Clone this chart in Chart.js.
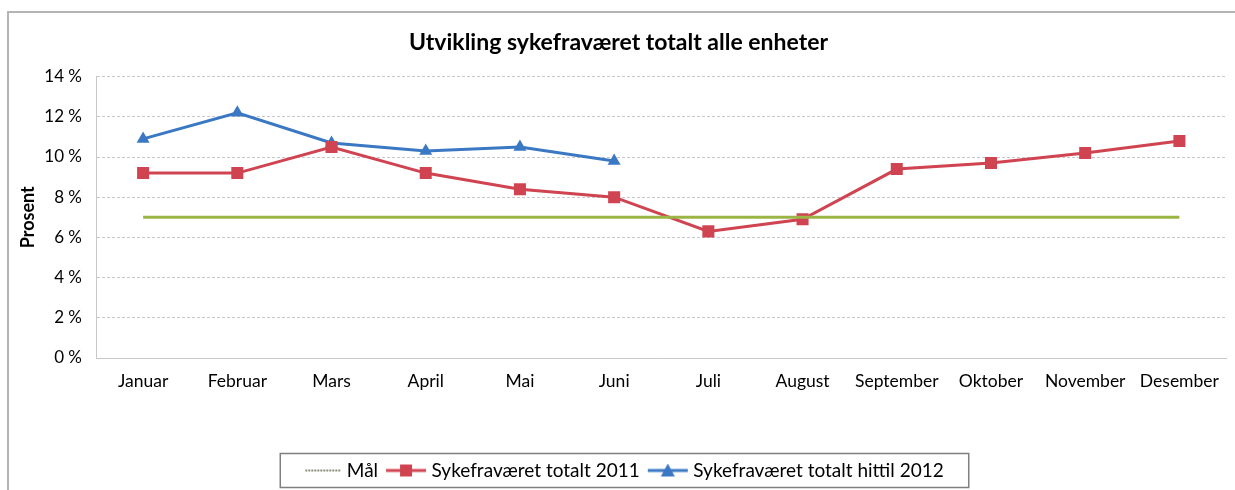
<!DOCTYPE html>
<html>
<head>
<meta charset="utf-8">
<script src="https://cdn.jsdelivr.net/npm/chart.js@4.4.1/dist/chart.umd.min.js"></script>
<style>
  html, body { margin: 0; padding: 0; background: #fff; }
  #wrap { position: relative; width: 1235px; height: 490px; }
  #frame { position: absolute; left: 7px; top: 11px; width: 1240px; height: 500px;
           border-left: 2px solid #b4b4b4; border-top: 2px solid #b4b4b4; }
  canvas { position: absolute; left: 0; top: 0; }
</style>
</head>
<body>
<div id="wrap">
  <div id="frame"></div>
  <canvas id="chart" width="1235" height="490"></canvas>
</div>
<script>
// ── Data ──
const MÅNEDER = ["Januar", "Februar", "Mars", "April", "Mai", "Juni", "Juli", "August", "September", "Oktober", "November", "Desember"];
const MÅL = [7, 7, 7, 7, 7, 7, 7, 7, 7, 7, 7, 7];
const FRAVÆR_2011 = [9.2, 9.2, 10.5, 9.2, 8.4, 8.0, 6.3, 6.9, 9.4, 9.7, 10.2, 10.8];
const FRAVÆR_2012 = [10.9, 12.2, 10.7, 10.3, 10.5, 9.8, null, null, null, null, null, null];
const Y_TICKS = [0, 2, 4, 6, 8, 10, 12, 14];

const FONT = "Lato, 'Open Sans', sans-serif";
const GRØNN = "#9bb545";
const RØD = "#d04452";
const BLÅ = "#3b78c3";

// legend-ikon: linje med markør i midten (litt bredere enn boksen, så den når teksten)
function legendIcon(color, marker) {
  const c = document.createElement("canvas");
  c.width = 44; c.height = 14;
  const g = c.getContext("2d");
  g.strokeStyle = color;
  g.lineWidth = marker ? 3 : 2;
  if (!marker) { g.strokeStyle = "#8a8f7a"; g.setLineDash([2, 1]); }
  g.beginPath(); g.moveTo(marker ? 2 : 6, 7); g.lineTo(42, 7); g.stroke();
  g.fillStyle = color;
  if (marker === "rect") g.fillRect(16, 1, 12, 12);
  if (marker === "tri") {
    g.beginPath(); g.moveTo(22, 0); g.lineTo(29, 13); g.lineTo(15, 13); g.closePath(); g.fill();
  }
  return c;
}

const ICONS = [legendIcon(GRØNN, null), legendIcon(RØD, "rect"), legendIcon(BLÅ, "tri")];

// legenden står litt til høyre for midten, med ramme rundt
const LEGEND_SHIFT = 6;
const legendBox = {
  id: "legendBox",
  afterLayout(chart) {
    const lg = chart.legend;
    lg.left += LEGEND_SHIFT;
    lg.right += LEGEND_SHIFT;
    lg.legendHitBoxes.forEach(b => { b.left += LEGEND_SHIFT; });
  },
  afterDraw(chart) {
    const boxes = chart.legend.legendHitBoxes;
    if (!boxes || !boxes.length) return;
    const left = Math.min(...boxes.map(b => b.left)) - 25;
    const right = Math.max(...boxes.map(b => b.left + b.width)) + 25;
    const top = boxes[0].top + boxes[0].height / 2 - 17;
    const { ctx } = chart;
    ctx.save();
    ctx.strokeStyle = "#7f7f7f";
    ctx.lineWidth = 1.5;
    ctx.strokeRect(left, top, right - left, 34);
    ctx.restore();
  }
};

new Chart(document.getElementById("chart"), {
  type: "line",
  data: {
    labels: MÅNEDER,
    datasets: [
      { label: "Mål", data: MÅL, borderColor: GRØNN, backgroundColor: GRØNN,
        borderWidth: 3, pointRadius: 0, pointHoverRadius: 0 },
      { label: "Sykefraværet totalt 2011", data: FRAVÆR_2011, borderColor: RØD, backgroundColor: RØD,
        borderWidth: 3, pointStyle: "rect", pointRadius: 8.5, pointBorderWidth: 0 },
      { label: "Sykefraværet totalt hittil 2012", data: FRAVÆR_2012, borderColor: BLÅ, backgroundColor: BLÅ,
        borderWidth: 3, pointStyle: "triangle", pointRadius: 7.5, pointBorderWidth: 0 }
    ]
  },
  options: {
    responsive: false,
    animation: false,
    layout: { padding: { left: 10, right: 8, top: 21, bottom: 0 } },
    plugins: {
      title: {
        display: true,
        text: "Utvikling sykefraværet totalt alle enheter",
        color: "#000",
        font: { family: FONT, size: 23, weight: "bold" },
        padding: { top: 8, bottom: 20 }
      },
      legend: {
        position: "bottom",
        labels: {
          color: "#000",
          font: { family: FONT, size: 19 },
          usePointStyle: true,
          pointStyleWidth: 32,
          padding: 12,
          generateLabels: chart => chart.data.datasets.map((ds, i) => ({
            text: ds.label,
            fillStyle: ds.borderColor,
            strokeStyle: ds.borderColor,
            lineWidth: 0,
            pointStyle: ICONS[i],
            datasetIndex: i,
            hidden: false
          }))
        }
      },
      tooltip: { enabled: false }
    },
    scales: {
      x: {
        offset: true,
        grid: { display: false },
        border: { color: "#c8c8c8", dash: [3, 2] },
        ticks: { color: "#000", font: { family: FONT, size: 17.5 }, padding: 5, maxRotation: 0, autoSkip: false },
        afterFit: s => { s.height = 91; }
      },
      y: {
        min: 0, max: 14,
        afterBuildTicks: s => { s.ticks = Y_TICKS.map(v => ({ value: v })); },
        grid: { color: "#c8c8c8", drawTicks: false },
        border: { color: "#c8c8c8", dash: [3, 2] },
        ticks: { color: "#000", font: { family: FONT, size: 17 }, padding: 14,
                 callback: v => v + " %" },
        title: { display: true, text: "Prosent", color: "#000",
                 font: { family: FONT, size: 18, weight: "bold" }, padding: { top: 7, bottom: 4 } },
        afterFit: s => { s.width = 86; }
      }
    }
  },
  plugins: [legendBox]
});
</script>
</body>
</html>
